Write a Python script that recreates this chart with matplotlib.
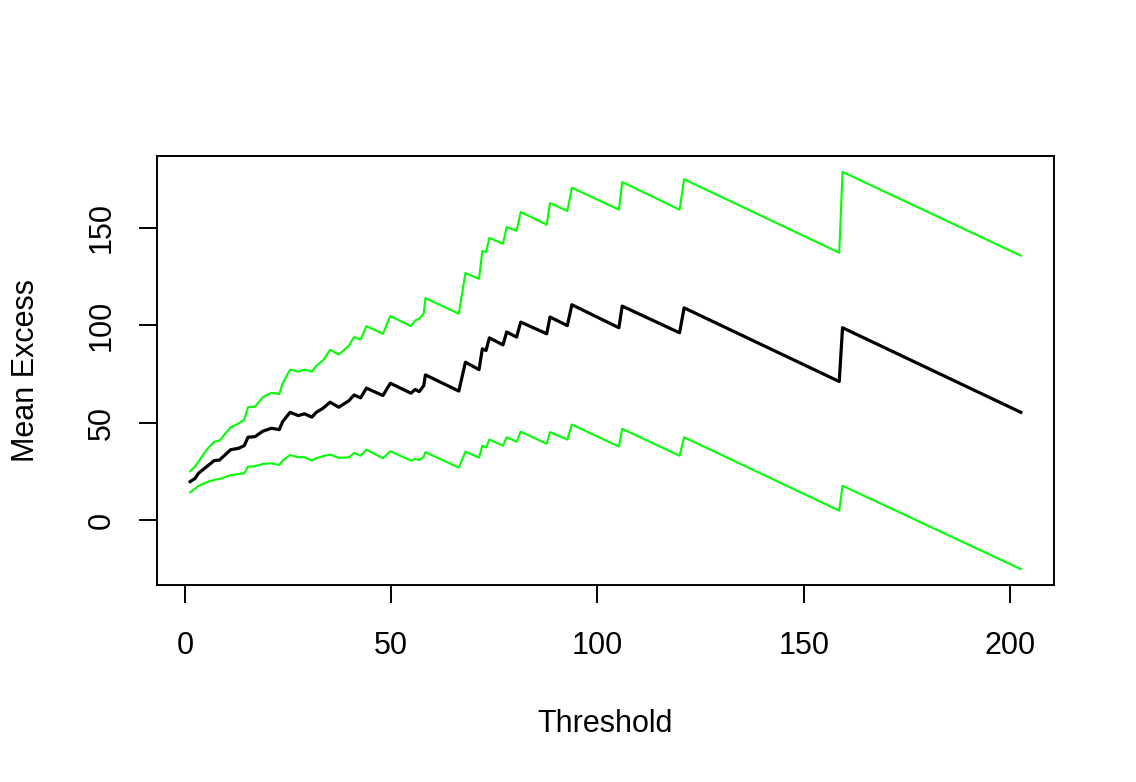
import matplotlib
matplotlib.use("Agg")
import matplotlib.pyplot as plt

# thresholds where the mean excess curve changes direction
threshold = [1.3, 2.5, 3.3, 5.3, 7.1, 8.4, 11.1, 13.0, 14.4, 15.3, 17.0, 18.9,
             21.0, 22.9, 23.7, 25.5, 27.5, 29.0, 30.8, 31.8, 33.5, 35.2, 37.3,
             39.8, 41.0, 42.6, 44.0, 48.0, 49.8, 54.8, 55.8, 56.8, 57.9, 58.3,
             66.4, 68.0, 71.3, 72.1, 73.0, 73.8, 77.1, 78.0, 80.4, 81.4, 87.7,
             88.5, 92.7, 93.8, 105.2, 106.0, 119.9, 121.0, 158.6, 159.4, 202.6]

mean_excess = [19.7, 21.4, 24.0, 27.4, 30.5, 30.8, 36.1, 36.8, 38.2, 42.5, 42.8,
               45.6, 47.1, 46.4, 50.5, 55.3, 53.6, 54.5, 52.8, 55.2, 57.4, 60.5,
               57.9, 61.3, 64.2, 62.7, 67.7, 63.9, 70.2, 65.1, 67.0, 65.9, 69.0,
               74.5, 66.2, 81.0, 77.2, 87.9, 87.0, 93.5, 89.9, 96.5, 93.9, 101.6,
               95.6, 104.2, 99.8, 110.5, 98.7, 109.8, 96.1, 108.9, 71.1, 98.7, 55.3]

upper = [25.0, 27.5, 30.0, 36.1, 40.2, 40.8, 47.6, 49.5, 51.5, 57.9, 58.2, 63.1,
         65.3, 64.7, 70.2, 77.2, 76.2, 77.2, 76.2, 79.0, 81.9, 87.4, 84.9, 89.6,
         93.9, 92.7, 99.5, 95.6, 104.7, 99.5, 102.4, 103.3, 106.0, 113.9, 105.9,
         126.8, 123.8, 138.1, 137.6, 144.8, 141.8, 150.4, 148.5, 158.1, 151.6,
         162.7, 158.6, 170.6, 159.3, 173.5, 159.3, 174.9, 137.2, 178.7, 135.7]

lower = [14.2, 16.0, 17.5, 19.4, 20.6, 21.1, 23.0, 23.6, 24.0, 27.4, 27.6, 28.8,
         29.1, 28.3, 30.5, 33.4, 32.2, 32.2, 30.5, 31.7, 32.8, 33.6, 31.9, 32.2,
         34.4, 33.0, 36.1, 31.7, 35.3, 30.5, 31.3, 30.8, 32.5, 34.8, 26.9, 35.1,
         32.0, 38.2, 37.2, 41.3, 38.2, 42.5, 40.2, 45.4, 39.1, 45.1, 41.3, 49.0,
         37.7, 46.8, 33.0, 42.5, 4.8, 17.6, -25.2]

x_ticks = [0, 50, 100, 150, 200]
y_ticks = [0, 50, 100, 150]

plt.rcParams['font.family'] = ['Liberation Sans', 'DejaVu Sans']

fig = plt.figure(figsize=(11.36, 7.82), dpi=100)
ax = fig.add_axes([157 / 1136, 1 - 585 / 782, (1054 - 157) / 1136, (585 - 156) / 782])

ax.plot(threshold, mean_excess, color='black', lw=2.3)
ax.plot(threshold, upper, color='#00ff00', lw=1.5)
ax.plot(threshold, lower, color='#00ff00', lw=1.5)

# R style 4% padding
x0, x1 = min(threshold), max(threshold)
y0, y1 = min(lower), max(upper)
ax.set_xlim(x0 - 0.04 * (x1 - x0), x1 + 0.04 * (x1 - x0))
ax.set_ylim(y0 - 0.04 * (y1 - y0), y1 + 0.04 * (y1 - y0))

ax.set_xticks(x_ticks)
ax.set_yticks(y_ticks)
ax.set_yticklabels([str(v) for v in y_ticks], rotation=90, va='center')
ax.tick_params(direction='out', length=13, width=1.4, labelsize=22, pad=20)
ax.tick_params(axis='y', pad=16)
for s in ax.spines.values():
    s.set_linewidth(1.4)

ax.set_xlabel("Threshold", fontsize=22, labelpad=35)
ax.set_ylabel("Mean Excess", fontsize=22, labelpad=33)

fig.savefig("out.png", dpi=100)
